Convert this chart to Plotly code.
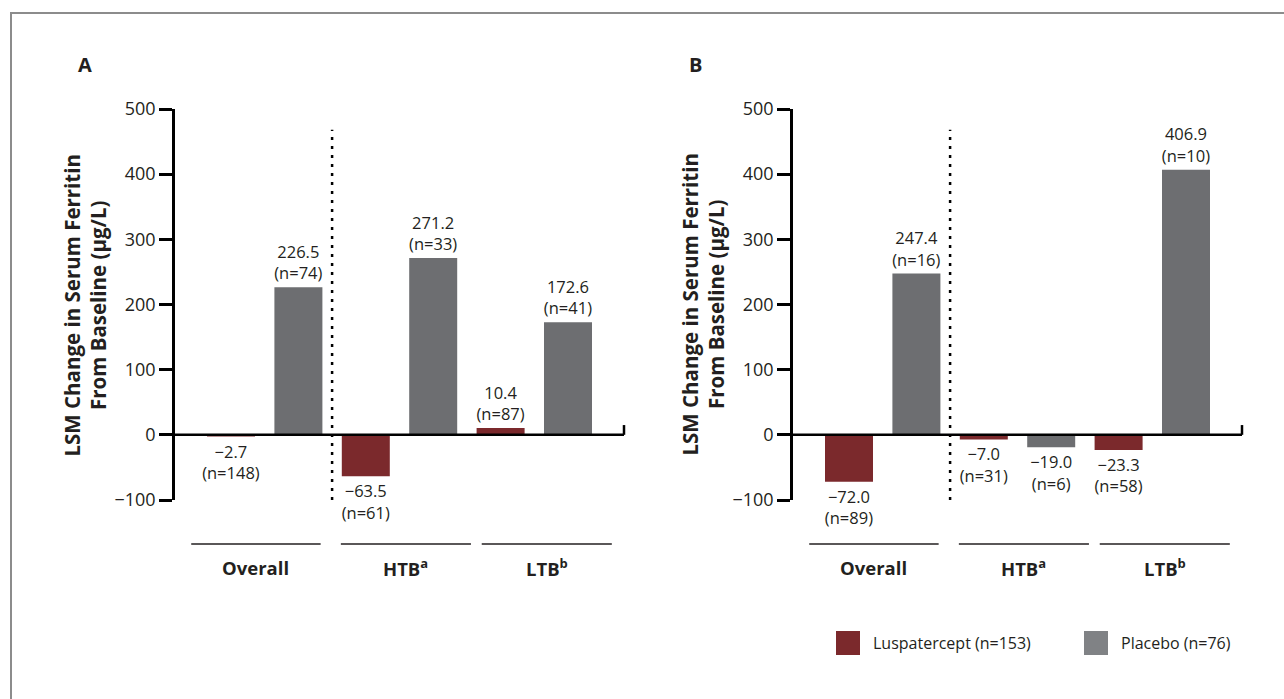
import plotly.graph_objects as go

W, H = 1284, 699

# ---------------- data ----------------
categories = ["Overall", "HTB<sup>a</sup>", "LTB<sup>b</sup>"]
a_lusp = [-2.7, -63.5, 10.4]
a_lusp_n = [148, 61, 87]
a_plac = [226.5, 271.2, 172.6]
a_plac_n = [74, 33, 41]
b_lusp = [-72.0, -7.0, -23.3]
b_lusp_n = [89, 31, 58]
b_plac = [247.4, -19.0, 406.9]
b_plac_n = [16, 6, 10]
y_ticks = [-100, 0, 100, 200, 300, 400, 500]
legend_labels = ["Luspatercept (n=153)", "Placebo (n=76)"]
panel_labels = ["A", "B"]
y_title = "LSM Change in Serum Ferritin<br>From Baseline (µg/L)"

# ---------------- style ----------------
FONT = "Open Sans"
TXT = "#231f20"
C_LUSP = "#7b292c"
C_PLAC = "#6d6e71"
C_PLAC_LEG = "#808285"
BORDER = "#8c8c8c"

def px_x(px):
    return px / W

def px_y(py):
    return 1 - py / H

def fmt(v, n):
    return f"{v:.1f}".replace("-", "\u2212") + f"<br>(n={n})"

panels = [
    dict(lusp=a_lusp, lusp_n=a_lusp_n, plac=a_plac, plac_n=a_plac_n, ax0=175, label=panel_labels[0], lab_x=85),
    dict(lusp=b_lusp, lusp_n=b_lusp_n, plac=b_plac, plac_n=b_plac_n, ax0=793, label=panel_labels[1], lab_x=696),
]

UNIT = 67.4          # px per category slot
PAD = 56             # px from axis to first bar centre
x_range = [-PAD / UNIT, 5 + PAD / UNIT]
plot_w = (x_range[1] - x_range[0]) * UNIT
y_dom = [px_y(500), px_y(109)]
BAR_W = 48 / UNIT

fig = go.Figure()
shapes = []
annotations = []

# frame lines
shapes.append(dict(type="line", xref="paper", yref="paper", x0=px_x(10), x1=1,
                   y0=px_y(13), y1=px_y(13), line=dict(color=BORDER, width=2)))
shapes.append(dict(type="line", xref="paper", yref="paper", x0=px_x(11), x1=px_x(11),
                   y0=px_y(13), y1=0, line=dict(color=BORDER, width=2)))

underlines = [(-0.59, 1.33), (1.63, 3.56), (3.72, 5.65)]

for i, p in enumerate(panels):
    xa = "x" if i == 0 else "x2"
    ya = "y" if i == 0 else "y2"
    xs_l = [2 * k for k in range(len(categories))]
    xs_p = [2 * k + 1 for k in range(len(categories))]
    fig.add_trace(go.Bar(
        x=xs_l, y=p["lusp"], width=BAR_W, marker=dict(color=C_LUSP, line=dict(width=0)),
        text=[fmt(v, n) for v, n in zip(p["lusp"], p["lusp_n"])],
        textposition="outside", cliponaxis=False, constraintext="none", textangle=0,
        textfont=dict(family=FONT, size=16.5, color=TXT), name=legend_labels[0],
        xaxis=xa, yaxis=ya, hoverinfo="skip"))
    fig.add_trace(go.Bar(
        x=xs_p, y=p["plac"], width=BAR_W, marker=dict(color=C_PLAC, line=dict(width=0)),
        text=[fmt(v, n) for v, n in zip(p["plac"], p["plac_n"])],
        textposition="outside", cliponaxis=False, constraintext="none", textangle=0,
        textfont=dict(family=FONT, size=16.5, color=TXT), name=legend_labels[1],
        xaxis=xa, yaxis=ya, hoverinfo="skip"))

    dom = [px_x(p["ax0"]), px_x(p["ax0"] + plot_w)]
    xkey = "xaxis" if i == 0 else "xaxis2"
    ykey = "yaxis" if i == 0 else "yaxis2"
    fig.update_layout(**{
        xkey: dict(domain=dom, range=x_range, visible=False, fixedrange=True,
                   anchor=ya, automargin=False),
        ykey: dict(domain=y_dom, range=[-100, 500], tickvals=y_ticks,
                   ticktext=[str(t).replace("-", "\u2212") for t in y_ticks],
                   showline=True, linecolor="black", linewidth=2.5,
                   ticks="outside", ticklen=13, tickwidth=2.5, tickcolor="black",
                   showgrid=False, zeroline=False, anchor=xa, automargin=False,
                   tickfont=dict(family=FONT, size=18, color=TXT), fixedrange=True),
    })

    # zero line with upturned end
    shapes.append(dict(type="line", xref=f"{xa} domain", yref=ya, x0=0, x1=1, y0=0, y1=0,
                       line=dict(color="black", width=2.5), layer="above"))
    shapes.append(dict(type="line", xref=f"{xa} domain", yref=ya, x0=1, x1=1, y0=0, y1=15,
                       line=dict(color="black", width=2.5), layer="above"))
    # dotted separator
    shapes.append(dict(type="line", xref=xa, yref=ya, x0=1.5, x1=1.5, y0=-100, y1=468,
                       line=dict(color="black", width=2.5, dash="3px,6px"), layer="above"))

    # category underlines and labels
    for (u0, u1), cat in zip(underlines, categories):
        shapes.append(dict(type="line", xref=xa, yref="paper", x0=u0, x1=u1,
                           y0=px_y(544), y1=px_y(544), line=dict(color=TXT, width=1.5)))
        annotations.append(dict(xref=xa, yref="paper", x=(u0 + u1) / 2, y=px_y(567),
                                text=f"<b>{cat}</b>", showarrow=False, xanchor="center",
                                yanchor="middle", font=dict(family=FONT, size=18.5, color=TXT)))

    # y title
    annotations.append(dict(xref="paper", yref="paper", x=px_x(p["ax0"] - 90),
                            y=(y_dom[0] + y_dom[1]) / 2, text=f"<b>{y_title}</b>",
                            textangle=-90, showarrow=False, xanchor="center", yanchor="middle",
                            font=dict(family=FONT, size=20.5, color=TXT)))
    # panel label
    annotations.append(dict(xref="paper", yref="paper", x=px_x(p["lab_x"]), y=px_y(65),
                            text=f"<b>{p['label']}</b>", showarrow=False, xanchor="center",
                            yanchor="middle", font=dict(family=FONT, size=20, color=TXT)))

# legend (drawn)
leg = [(836, C_LUSP, legend_labels[0]), (1084, C_PLAC_LEG, legend_labels[1])]
for x0, col, lab in leg:
    shapes.append(dict(type="rect", xref="paper", yref="paper", x0=px_x(x0), x1=px_x(x0 + 24),
                       y0=px_y(655), y1=px_y(631), fillcolor=col, line=dict(width=0)))
    annotations.append(dict(xref="paper", yref="paper", x=px_x(x0 + 35), y=px_y(643),
                            text=lab, showarrow=False, xanchor="left", yanchor="middle",
                            font=dict(family=FONT, size=16, color=TXT)))

fig.update_layout(
    width=W, height=H, margin=dict(l=0, r=0, t=0, b=0, pad=0, autoexpand=False),
    paper_bgcolor="white", plot_bgcolor="white", showlegend=False,
    barmode="overlay", shapes=shapes, annotations=annotations,
    font=dict(family=FONT, color=TXT),
)

fig.write_html("out.html", config=dict(displayModeBar=False))
